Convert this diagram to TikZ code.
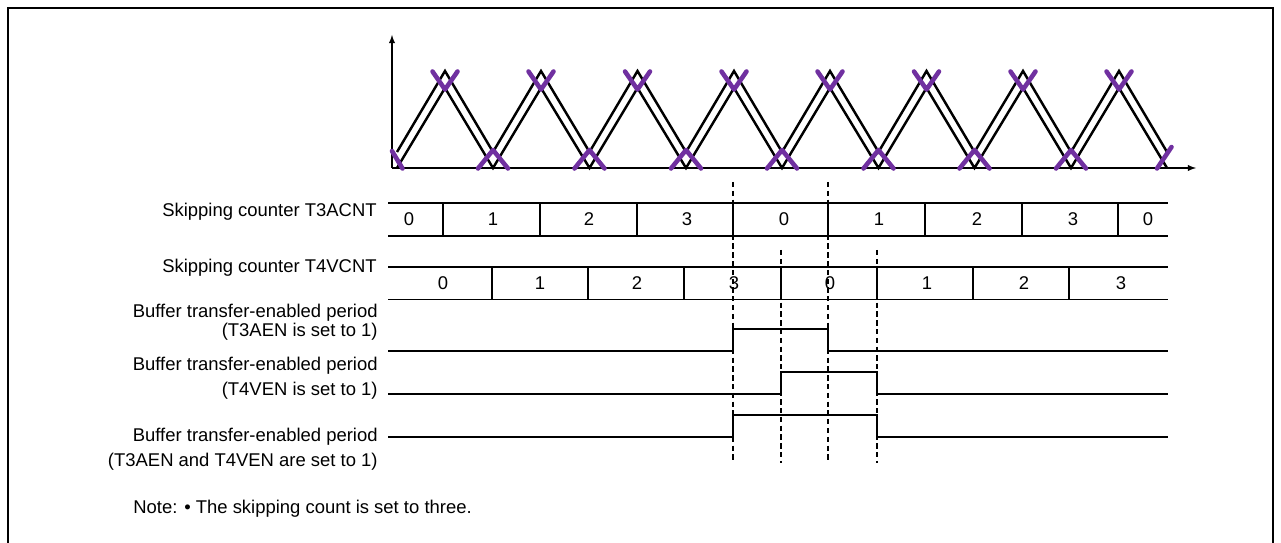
\documentclass[tikz,border=0pt]{standalone}
\usepackage{fontspec}
\setmainfont{Liberation Sans}
\usetikzlibrary{arrows.meta,positioning}
\definecolor{darkpurple}{RGB}{112,48,160}

\begin{document}
\begin{tikzpicture}[x=0.02cm,y=-0.02cm,
    font=\fontsize{10.5}{12}\selectfont,
    wavelin/.style={line width=1.4pt},
    cross/.style={darkpurple,line width=2.6pt,line cap=round,line join=round},
    rowline/.style={line width=1.1pt},
    enline/.style={line width=1.1pt},
    guide/.style={line width=0.9pt,dash pattern=on 3pt off 2pt},
    lbl/.style={anchor=east,inner sep=0pt},
    num/.style={inner sep=0pt}]
        \useasboundingbox (0,0) rectangle (1281,543);
        %Frame
        \draw[line width=1.4pt] (8,543) -- (8,8) -- (1273,8) -- (1273,543);
        %Axis
        \draw[-latex,line width=0.6pt] (392,168) -- (392,35);
        \draw[-latex,line width=0.6pt] (392,168) -- (1196,168);
        %Counters
        \draw[wavelin] (397,152) -- (445,71) -- (493,152) -- (541,71) -- (589.5,152) -- (637.5,71) -- (686,152) -- (734,71) -- (782,152) -- (830,71) -- (878.5,152) -- (926.5,71) -- (974.5,152) -- (1023,71) -- (1071,152) -- (1119,71) -- (1167,152);
        \draw[wavelin] (397,168) -- (445,88) -- (493,168) -- (541,88) -- (589.5,168) -- (637.5,88) -- (686,168) -- (734,88) -- (782,168) -- (830,88) -- (878.5,168) -- (926.5,88) -- (974.5,168) -- (1023,88) -- (1071,168) -- (1119,88) -- (1167,168);
        %Crests
        \draw[cross] (432.5,71.5) -- (445,89.5) -- (457.5,71.5);
        \draw[cross] (528.5,71.5) -- (541,89.5) -- (553.5,71.5);
        \draw[cross] (625,71.5) -- (637.5,89.5) -- (650,71.5);
        \draw[cross] (721.5,71.5) -- (734,89.5) -- (746.5,71.5);
        \draw[cross] (817.5,71.5) -- (830,89.5) -- (842.5,71.5);
        \draw[cross] (914,71.5) -- (926.5,89.5) -- (939,71.5);
        \draw[cross] (1010.5,71.5) -- (1023,89.5) -- (1035.5,71.5);
        \draw[cross] (1106.5,71.5) -- (1119,89.5) -- (1131.5,71.5);
        %Troughs
        \draw[cross] (392,151) -- (402.5,168.5);
        \draw[cross] (478,168.5) -- (493,150) -- (508,168.5);
        \draw[cross] (574.5,168.5) -- (589.5,150) -- (604.5,168.5);
        \draw[cross] (671,168.5) -- (686,150) -- (701,168.5);
        \draw[cross] (767,168.5) -- (782,150) -- (797,168.5);
        \draw[cross] (863.5,168.5) -- (878.5,150) -- (893.5,168.5);
        \draw[cross] (959.5,168.5) -- (974.5,150) -- (989.5,168.5);
        \draw[cross] (1056,168.5) -- (1071,150) -- (1086,168.5);
        \draw[cross] (1157,168.5) -- (1171.5,147);
        %Skipping counter T3ACNT
        \node[lbl] (cnt3) at (377,212) {Skipping counter T3ACNT};
        \draw[rowline] (388,203) -- (1168,203);
        \draw[rowline] (388,236) -- (1168,236);
        \draw[rowline] (443,203) -- (443,236);
        \draw[rowline] (540,203) -- (540,236);
        \draw[rowline] (637,203) -- (637,236);
        \draw[rowline] (733,203) -- (733,236);
        \draw[rowline] (828,203) -- (828,236);
        \draw[rowline] (925,203) -- (925,236);
        \draw[rowline] (1022,203) -- (1022,236);
        \draw[rowline] (1118,203) -- (1118,236);
        \node[num] (a0) at (409,219.5) {0};
        \node[num] (a1) at (493,219.5) {1};
        \node[num] (a2) at (589,219.5) {2};
        \node[num] (a3) at (687,219.5) {3};
        \node[num] (a4) at (784,219.5) {0};
        \node[num] (a5) at (879,219.5) {1};
        \node[num] (a6) at (977,219.5) {2};
        \node[num] (a7) at (1073,219.5) {3};
        \node[num] (a8) at (1148,219.5) {0};
        %Skipping counter T4VCNT
        \node[lbl] (cnt4) at (377,268) {Skipping counter T4VCNT};
        \draw[rowline] (388,267) -- (1168,267);
        \draw[rowline] (388,299.5) -- (1168,299.5);
        \draw[rowline] (492,267) -- (492,299.5);
        \draw[rowline] (588,267) -- (588,299.5);
        \draw[rowline] (684,267) -- (684,299.5);
        \draw[rowline] (781,267) -- (781,299.5);
        \draw[rowline] (877,267) -- (877,299.5);
        \draw[rowline] (973,267) -- (973,299.5);
        \draw[rowline] (1069,267) -- (1069,299.5);
        \node[num] (b0) at (443,283) {0};
        \node[num] (b1) at (540,283) {1};
        \node[num] (b2) at (637,283) {2};
        \node[num] (b3) at (734,283) {3};
        \node[num] (b4) at (830,283) {0};
        \node[num] (b5) at (927,283) {1};
        \node[num] (b6) at (1024,283) {2};
        \node[num] (b7) at (1121,283) {3};
        %Guides
        \draw[guide] (733,182) -- (733,463);
        \draw[guide] (828,182) -- (828,463);
        \draw[guide] (781,250) -- (781,463);
        \draw[guide] (877,250) -- (877,463);
        %Buffer transfer-enabled periods
        \node[lbl] (en3a) at (378,313) {Buffer transfer-enabled period};
        \node[lbl] (en3b) at (378,332) {(T3AEN is set to 1)};
        \draw[enline] (388,351) -- (733,351) -- (733,329) -- (828,329) -- (828,351) -- (1168,351);
        \node[lbl] (en4a) at (378,366) {Buffer transfer-enabled period};
        \node[lbl] (en4b) at (378,391) {(T4VEN is set to 1)};
        \draw[enline] (388,394) -- (781,394) -- (781,372) -- (877,372) -- (877,394) -- (1168,394);
        \node[lbl] (enba) at (378,437) {Buffer transfer-enabled period};
        \node[lbl] (enbb) at (378,462) {(T3AEN and T4VEN are set to 1)};
        \draw[enline] (388,437) -- (733,437) -- (733,415) -- (877,415) -- (877,437) -- (1168,437);
        %Note
        \node[anchor=west,inner sep=0pt] (note) at (133,509) {Note: • The skipping count is set to three.};
\end{tikzpicture}
\end{document}
